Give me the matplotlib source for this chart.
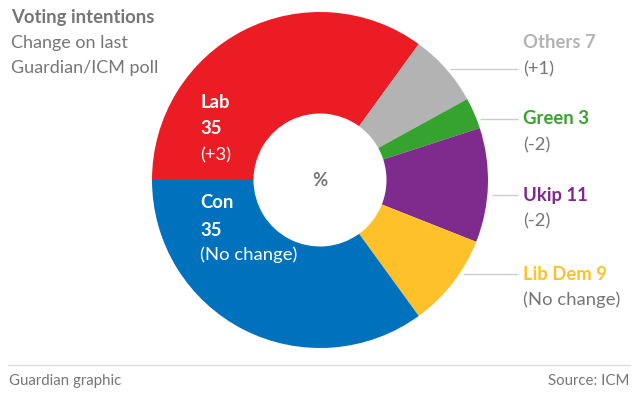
import matplotlib.pyplot as plt

plt.rcParams['font.family'] = ['Lato', 'DejaVu Sans']

parties = ['Lab', 'Others', 'Green', 'Ukip', 'Lib Dem', 'Con']
values = [35, 7, 3, 11, 9, 35]
changes = ['(+3)', '(+1)', '(-2)', '(-2)', '(No change)', '(No change)']
colors = ['#ec1c24', '#b3b3b3', '#36a22f', '#7f2a8d', '#ffc12a', '#0071bc']

W, H = 638, 398
fig = plt.figure(figsize=(W / 100, H / 100), dpi=100)
ax = fig.add_axes([0, 0, 1, 1])

cx, cy = 320, H - 180
R, r = 168, 66.5
ax.pie(values, colors=colors, startangle=180, counterclock=False,
       center=(cx, cy), radius=R,
       wedgeprops=dict(width=R - r, linewidth=0))
ax.set_xlim(0, W)
ax.set_ylim(0, H)
ax.set_aspect('equal')
ax.axis('off')

def Y(y):
    return H - y

grey = '#767676'
FS = 13.3
# title
ax.text(11, Y(17), 'Voting intentions', fontsize=FS, fontweight='bold', color=grey, va='center', ha='left')
ax.text(11, Y(43), 'Change on last', fontsize=13, color=grey, va='center', ha='left')
ax.text(11, Y(68), 'Guardian/ICM poll', fontsize=13, color=grey, va='center', ha='left')

# center
ax.text(cx, Y(180), '%', fontsize=FS, color=grey, va='center', ha='center', fontweight='bold')

# inner labels for Lab and Con
for name, val, ch, ys in [(parties[0], values[0], changes[0], (103, 128, 155)),
                          (parties[5], values[5], changes[5], (203, 230, 255))]:
    ax.text(200, Y(ys[0]), name, fontsize=FS, fontweight='bold', color='white', va='center', ha='left')
    ax.text(200, Y(ys[1]), str(val), fontsize=FS, fontweight='bold', color='white', va='center', ha='left')
    ax.text(200, Y(ys[2]), ch, fontsize=FS, color='white', va='center', ha='left')

# outer labels
outer = [(1, 43, 450), (2, 119, 480), (3, 195, 492), (4, 274, 463)]
for i, ty, lx in outer:
    ax.text(523, Y(ty), f'{parties[i]} {values[i]}', fontsize=FS, fontweight='bold',
            color=colors[i], va='center', ha='left')
    ax.text(523, Y(ty + 26), changes[i], fontsize=FS, color=grey, va='center', ha='left')
    ly = ty + 26 if i == 1 else ty
    ax.plot([lx, 518], [Y(ly), Y(ly)], color='#cccccc', linewidth=1, solid_capstyle='butt')

# footer
ax.plot([8, 630], [Y(365), Y(365)], color='#dcdcdc', linewidth=1)
ax.text(9, Y(381), 'Guardian graphic', fontsize=10.8, color=grey, va='center', ha='left')
ax.text(629, Y(381), 'Source: ICM', fontsize=10.8, color=grey, va='center', ha='right')

fig.savefig('out.png', dpi=100)
